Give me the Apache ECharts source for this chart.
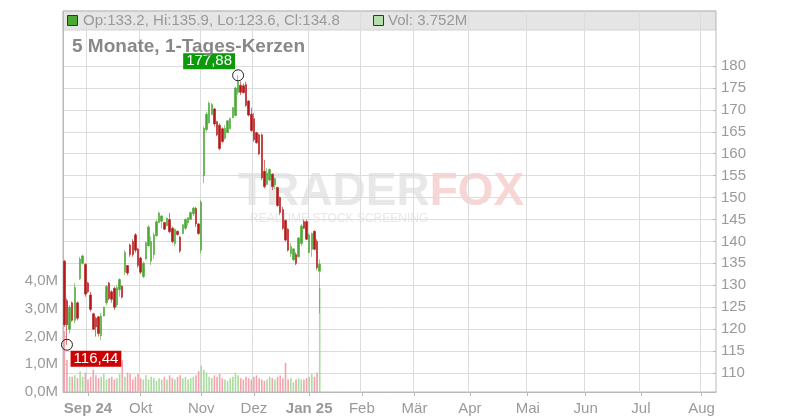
<!DOCTYPE html>
<html><head><meta charset="utf-8">
<script src="https://cdn.jsdelivr.net/npm/echarts@6.0.0/dist/echarts.min.js"></script>
<style>html,body{margin:0;padding:0;background:#fff}#c{width:800px;height:420px}</style>
</head><body><div id="c"></div>
<script>
// ---- data (daily candles) ----
const opens  = [135.5,126.5,120.0,126.0,122.0,126.0,131.5,135.0,134.8,130.5,
                127.8,123.5,122.5,122.8,118.5,123.0,126.0,130.5,128.5,129.3,
                125.5,129.0,129.8,133.0,134.5,139.2,140.0,141.5,138.3,136.2,
                132.0,136.0,139.0,135.5,137.0,141.3,144.3,144.6,144.3,143.6,
                145.0,143.0,139.5,142.3,141.0,141.8,143.0,144.2,145.0,
                146.3,147.5,144.0,138.0,155.0,165.5,167.0,168.9,170.2,167.3,
                166.5,165.7,163.5,164.8,165.7,168.2,168.7,174.0,175.6,175.5,
                175.8,172.0,169.0,168.0,164.8,164.3,164.3,156.0,153.0,154.0,
                155.3,152.9,152.3,150.0,147.3,144.8,142.8,137.2,135.8,137.0,
                136.5,139.5,144.5,144.5,137.5,138.2,142.3,140.0,133.2];
const highs  = [135.8,127.0,125.5,126.3,130.5,126.3,136.5,137.0,135.0,130.8,
                128.5,123.7,122.9,123.0,123.7,125.1,130.0,130.8,128.9,129.7,
                130.0,131.6,130.0,138.0,134.6,139.5,140.5,141.9,138.5,136.5,
                135.4,140.0,143.7,141.1,142.0,144.9,146.8,146.0,144.5,145.5,
                146.5,143.4,143.0,142.5,141.1,144.0,145.3,145.5,146.8,
                147.9,147.9,144.2,149.4,166.2,169.6,171.9,171.6,170.4,167.5,
                166.9,166.0,166.5,167.7,168.3,170.7,175.3,177.88,176.5,176.0,
                176.4,172.2,170.5,169.3,165.0,164.6,164.6,158.6,156.7,156.7,
                155.5,154.5,152.5,150.2,147.9,145.0,143.0,139.6,138.5,137.5,
                141.0,144.0,145.0,145.0,141.9,142.0,142.5,140.5,135.9];
const lows   = [120.5,116.44,119.0,121.7,121.4,122.0,131.2,134.7,127.4,128.2,
                124.0,119.8,118.3,118.3,117.5,122.9,125.5,126.6,126.0,124.4,
                125.0,127.4,127.0,132.3,132.3,136.5,136.5,137.4,134.0,132.5,
                131.6,135.8,138.8,134.6,136.0,141.1,144.2,143.0,142.6,143.5,
                141.9,139.6,139.0,141.3,137.4,141.7,142.6,143.5,144.9,
                145.8,143.3,141.5,137.3,153.3,165.0,166.9,168.8,166.2,164.0,
                160.8,162.5,163.2,164.7,165.6,168.1,168.5,173.4,173.4,173.8,
                170.7,168.5,165.0,162.7,162.3,159.7,154.0,152.1,152.9,153.8,
                151.7,152.0,147.9,146.0,142.6,140.0,137.7,136.5,135.5,134.6,
                136.3,139.0,142.8,140.3,137.3,136.5,138.0,133.5,123.6];
const closes = [121.0,121.0,125.0,122.0,129.5,122.5,136.0,136.7,128.0,128.5,
                124.5,120.0,120.5,119.0,123.0,125.0,129.8,127.0,126.8,125.0,
                129.5,131.3,127.3,137.5,132.8,137.0,137.0,138.0,134.5,133.0,
                135.0,139.7,143.3,140.0,141.5,144.5,146.5,145.8,142.8,145.3,
                142.2,140.0,142.7,141.6,137.8,143.8,145.0,145.4,146.6,
                147.6,144.0,141.8,149.0,165.8,169.0,171.5,171.2,166.8,164.3,
                161.2,162.8,165.8,167.5,168.0,170.5,175.0,176.5,174.0,173.9,
                171.0,168.8,165.3,163.2,162.5,160.0,154.5,152.5,155.6,156.4,
                152.5,154.3,148.2,146.6,143.0,140.3,138.0,138.8,138.3,135.0,
                140.8,143.5,143.0,140.5,141.5,141.8,138.2,134.0,134.8];
const volumesM = [2.2,1.15,0.55,0.55,0.6,0.5,0.75,0.55,0.7,0.45,
                  0.55,0.8,0.6,0.5,0.55,0.65,0.45,0.5,0.55,0.45,
                  0.5,0.65,1.15,0.55,0.7,0.65,0.45,0.55,0.65,0.5,
                  0.45,0.6,0.45,0.55,0.5,0.4,0.5,0.45,0.55,0.45,
                  0.6,0.5,0.45,0.55,0.6,0.5,0.55,0.45,0.5,
                  0.55,0.6,0.75,0.95,0.8,0.7,0.55,0.5,0.6,0.55,
                  0.65,0.5,0.45,0.4,0.5,0.55,0.7,0.6,0.5,0.45,
                  0.55,0.5,0.45,0.55,0.6,0.5,0.45,0.4,0.45,0.55,
                  0.5,0.45,0.55,0.6,0.5,1.05,0.45,0.5,0.35,0.45,
                  0.5,0.45,0.45,0.5,0.55,0.65,0.55,0.7,3.752];
const axisStart = '2024-08-20';
const axisEnd   = '2025-08-08';
const holidays  = ['2024-09-02','2024-11-28','2024-12-25','2025-01-01','2025-01-09','2025-01-20'];
const tickLabels = ['Sep 24','Okt','Nov','Dez','Jan 25','Feb','Mär','Apr','Mai','Jun','Jul','Aug'];
const boldLabels = ['Sep 24','Jan 25'];
const volTicks = [0,1,2,3,4];

// ---- trading-day categories ----
const dates = [];
for (let d = new Date(axisStart+'T00:00:00Z'); d <= new Date(axisEnd+'T00:00:00Z'); d.setUTCDate(d.getUTCDate()+1)) {
  const wd = d.getUTCDay();
  const s = d.toISOString().slice(0,10);
  if (wd === 0 || wd === 6 || holidays.includes(s)) continue;
  dates.push(s);
}
const tickMap = {};
let k = 0;
for (let i = 1; i < dates.length; i++) {
  if (dates[i].slice(5,7) !== dates[i-1].slice(5,7)) { tickMap[i] = tickLabels[k++]; }
}
const isTick = (i) => tickMap[i] !== undefined;

const UP = '#4aa834', DOWN = '#b51818', UPV = '#a9dc9e', DOWNV = '#f2a3ab';
const candles = opens.map((o,i) => [o, closes[i], lows[i], highs[i]]);
const vols = volumesM.map((v,i) => ({value: v*1e6, itemStyle:{color: closes[i] >= opens[i] ? UPV : DOWNV}}));

let iHi = 0, iLo = 0;
highs.forEach((h,i)=>{ if (h > highs[iHi]) iHi = i; });
lows.forEach((l,i)=>{ if (l < lows[iLo]) iLo = i; });
const fmt2 = v => v.toFixed(2).replace('.', ',');
const last = opens.length - 1;
const header = 'Op:' + opens[last].toFixed(1) + ', Hi:' + highs[last].toFixed(1) + ', Lo:' + lows[last].toFixed(1) + ', Cl:' + closes[last].toFixed(1);
const volHeader = 'Vol: ' + volumesM[last].toFixed(3) + 'M';

const FONT = 'Liberation Sans, Arial, sans-serif';
const chart = echarts.init(document.getElementById('c'));
chart.setOption({
  animation: false,
  textStyle: {fontFamily: FONT},
  grid: [
    {left: 63, right: 84, top: 11, bottom: 28, show: true, borderColor: '#b9b9b9', borderWidth: 1, backgroundColor: 'transparent'},
    {left: 63, right: 84, top: 66, bottom: 47}
  ],
  xAxis: [
    {type: 'category', gridIndex: 0, data: dates, boundaryGap: true,
     axisLine: {show: true, lineStyle: {color: '#b9b9b9'}},
     axisTick: {show: true, interval: isTick, alignWithLabel: true, length: 4, lineStyle: {color: '#b9b9b9'}},
     axisLabel: {interval: isTick, margin: 9, color: '#9a9a9a', fontSize: 15, fontFamily: FONT,
       formatter: (v, i) => { const t = tickMap[i] || ''; return boldLabels.includes(t) ? '{b|' + t + '}' : t; },
       rich: {b: {fontWeight: 'bold', color: '#9a9a9a', fontSize: 15, fontFamily: FONT}}},
     splitLine: {show: true, interval: isTick, lineStyle: {color: '#dcdcdc', width: 1}}},
    {type: 'category', gridIndex: 1, data: dates, boundaryGap: true, show: false}
  ],
  yAxis: [
    {type: 'value', gridIndex: 0, position: 'left', min: 0, max: 13.73e6, interval: 1e6,
     splitLine: {show: false},
     axisLine: {show: true, lineStyle: {color: '#b9b9b9'}},
     axisTick: {show: true, inside: true, length: 3, customValues: volTicks.map(v=>v*1e6), lineStyle: {color: '#b9b9b9'}},
     axisLabel: {customValues: volTicks.map(v=>v*1e6), margin: 5, color: '#9a9a9a', fontSize: 15, fontFamily: FONT,
       formatter: v => (v/1e6).toFixed(1).replace('.', ',') + 'M'}},
    {type: 'value', gridIndex: 1, position: 'right', min: 110, max: 180, interval: 5,
     axisLine: {show: false},
     axisTick: {show: true, inside: true, length: 3, lineStyle: {color: '#b9b9b9'}},
     axisLabel: {margin: 5, color: '#9a9a9a', fontSize: 15, fontFamily: FONT},
     splitLine: {show: true, lineStyle: {color: '#dcdcdc', width: 1}}}
  ],
  series: [
    {type: 'bar', xAxisIndex: 0, yAxisIndex: 0, data: vols, barWidth: 1.6, silent: true},
    {type: 'candlestick', xAxisIndex: 1, yAxisIndex: 1, data: candles, barWidth: 2, clip: false,
     itemStyle: {color: UP, color0: DOWN, borderColor: UP, borderColor0: DOWN, borderWidth: 0.6},
     markPoint: {
       silent: true,
       data: [
         {coord: [iHi, highs[iHi]], symbol: 'circle', symbolSize: 11,
          itemStyle: {color: 'rgba(0,0,0,0)', borderColor: '#222', borderWidth: 1}, label: {show: false}},
         {coord: [iHi, highs[iHi]], symbol: 'rect', symbolSize: 0,
          label: {show: true, position: 'inside', offset: [-29, -14], formatter: fmt2(highs[iHi]),
                  backgroundColor: '#0a9a0a', color: '#fff', fontSize: 15, fontFamily: FONT, padding: [1, 3, 0, 3]}},
         {coord: [iLo, lows[iLo]], symbol: 'circle', symbolSize: 11,
          itemStyle: {color: 'rgba(0,0,0,0)', borderColor: '#222', borderWidth: 1}, label: {show: false}},
         {coord: [iLo, lows[iLo]], symbol: 'rect', symbolSize: 0,
          label: {show: true, position: 'inside', offset: [29, 14], formatter: fmt2(lows[iLo]),
                  backgroundColor: '#cc0000', color: '#fff', fontSize: 15, fontFamily: FONT, padding: [1, 3, 0, 3]}}
       ]
     }}
  ],
  graphic: [
    {type: 'rect', z: -1, silent: true, shape: {x: 63, y: 11, width: 653, height: 19},
     style: {fill: '#e5e5e5', stroke: '#d2d2d2', lineWidth: 1}},
    {type: 'rect', z: 10, silent: true, shape: {x: 67.5, y: 15.5, width: 10, height: 10},
     style: {fill: '#4aa834', stroke: '#333', lineWidth: 1}},
    {type: 'text', z: 10, silent: true, x: 83, y: 21,
     style: {text: header, fill: '#999', fontSize: 15, fontFamily: FONT, verticalAlign: 'middle'}},
    {type: 'rect', z: 10, silent: true, shape: {x: 373.5, y: 15.5, width: 10, height: 10},
     style: {fill: '#b3e0aa', stroke: '#333', lineWidth: 1}},
    {type: 'text', z: 10, silent: true, x: 388, y: 21,
     style: {text: volHeader, fill: '#999', fontSize: 15, fontFamily: FONT, verticalAlign: 'middle'}},
    {type: 'text', z: 10, silent: true, x: 72, y: 47,
     style: {text: '5 Monate, 1-Tages-Kerzen', fill: '#888', fontSize: 19, fontWeight: 'bold', fontFamily: FONT, verticalAlign: 'middle'}},
    {type: 'text', z: -1, silent: true, x: 238, y: 192,
     style: {text: '{a|TRADER}{b|FOX}', verticalAlign: 'middle',
       rich: {a: {fill: '#e8e8e8', color: '#e8e8e8', fontSize: 46, fontWeight: 'bold', fontFamily: FONT},
              b: {fill: '#f7d6d6', color: '#f7d6d6', fontSize: 46, fontWeight: 'bold', fontFamily: FONT}}}},
    {type: 'text', z: -1, silent: true, x: 250, y: 219,
     style: {text: 'REALTIME STOCK SCREENING', fill: '#e8e8e8', fontSize: 12, fontFamily: FONT, verticalAlign: 'middle'}}
  ]
});
</script>
</body></html>
